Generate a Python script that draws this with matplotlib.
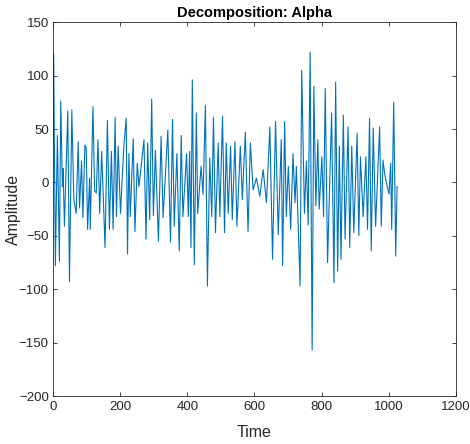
import matplotlib
matplotlib.use("Agg")
import matplotlib.pyplot as plt

# Local extrema of the alpha-band signal
time = [0, 2, 7, 13, 19, 23, 28, 30, 34, 44,
        49, 56, 62, 69, 75, 79, 85, 89, 95, 99,
        103, 109, 111, 119, 124, 129, 134, 139, 145, 155,
        162, 168, 174, 179, 185, 189, 194, 201, 211, 218,
        222, 226, 230, 239, 244, 251, 256, 271, 277, 282,
        288, 294, 299, 305, 314, 322, 328, 342, 350, 356,
        361, 369, 376, 382, 387, 398, 403, 407, 411, 415,
        421, 427, 431, 441, 447, 454, 460, 467, 473, 478,
        484, 492, 497, 505, 511, 516, 522, 529, 534, 542,
        548, 558, 564, 573, 581, 588, 596, 606, 616, 626,
        636, 646, 654, 663, 671, 680, 684, 690, 695, 701,
        708, 715, 721, 725, 736, 741, 749, 755, 760, 766,
        772, 777, 783, 789, 793, 801, 806, 811, 818, 830,
        837, 842, 848, 853, 858, 865, 870, 879, 884, 890,
        896, 906, 911, 916, 924, 932, 937, 943, 948, 954,
        961, 973, 978, 983, 989, 1001, 1006, 1009, 1015, 1021,
        1025]
amplitude = [40, 120, -78, 44, -74, 76, -4, 13, -41, 67,
             -93, 68, -16, -29, 38, -24, 20, -33, 35, 32,
             -44, 4, -44, 71, -8, -10, 40, -29, 29, -61,
             58, -44, 29, -44, 61, -32, 34, -29, 34, 60,
             -67, 27, -32, 41, -46, 18, -4, 40, -53, 37,
             -35, 78, -31, 30, -55, 43, -33, 49, -56, 59,
             -41, 27, -64, 44, -32, 27, -32, 29, -61, 96,
             -77, 65, -29, 15, -11, 72, -97, 23, -32, 61,
             -47, 37, -32, 62, -47, 37, -29, 34, -35, 38,
             -41, 34, -16, 47, -46, 37, -7, 4, -13, 12,
             -19, 52, -72, 57, -49, 40, -78, 57, -32, 15,
             -44, 27, -19, 15, -97, 105, -29, 20, -40, 122,
             -157, 90, -22, 40, -25, 24, -32, 88, -75, 65,
             -94, 94, -83, 34, -72, 63, -53, 52, -61, 34,
             -47, 46, -50, 24, -32, 24, -44, 60, -64, 51,
             -41, 52, -41, 21, 6, -11, 18, -44, 75, -69,
             -4]

plt.rcParams['font.family'] = ['Liberation Sans', 'DejaVu Sans']

fig = plt.figure(figsize=(4.70, 4.44), dpi=100)
ax = fig.add_axes([0.1128, 0.108, 0.857, 0.842])
ax.plot(time, amplitude, color='#0072BD', linewidth=0.8)

ax.set_xlim(0, 1200)
ax.set_ylim(-200, 150)
ax.set_xticks(range(0, 1201, 200))
ax.set_yticks(range(-200, 151, 50))
ax.tick_params(direction='in', top=True, right=True, length=3, width=0.6,
               labelsize=9.5, colors='#262626')
ax.tick_params(axis='y', pad=3)
for s in ax.spines.values():
    s.set_linewidth(0.6)
    s.set_color('#262626')
ax.set_title('Decomposition: Alpha', fontsize=10.5, fontweight='bold', pad=4)
ax.set_xlabel('Time', fontsize=11.5, color='#262626')
ax.set_ylabel('Amplitude', fontsize=11.5, color='#262626')
ax.xaxis.set_label_coords(0.5, -0.078)
ax.yaxis.set_label_coords(-0.08, 0.5)

fig.savefig('out.png', dpi=100)
